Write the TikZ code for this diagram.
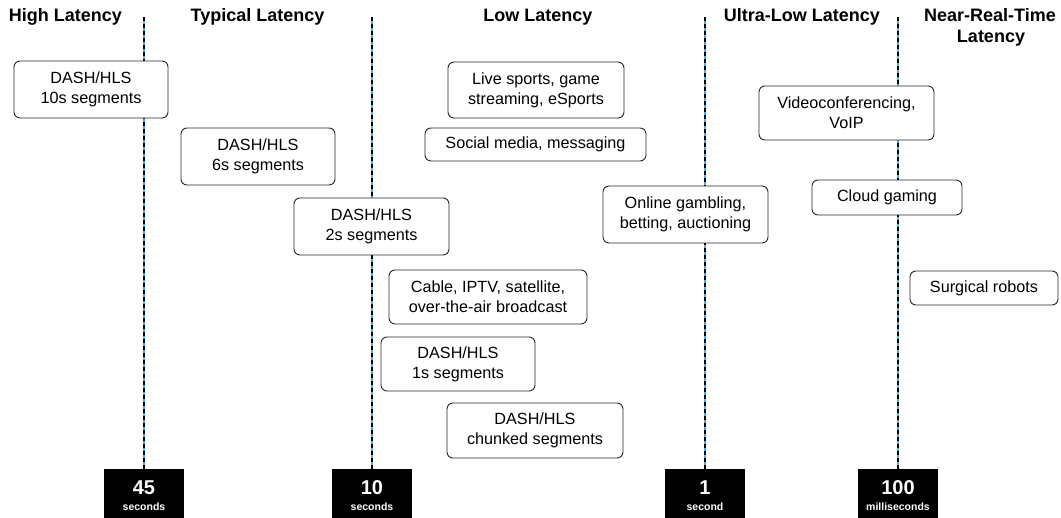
\documentclass[tikz,border=0pt]{standalone}
\usepackage{fontspec}
\setmainfont{Liberation Sans}
\definecolor{lineblue}{RGB}{84,170,222}
\definecolor{boxline}{RGB}{40,40,40}
\tikzset{
  item/.style={draw=boxline, line width=0.9pt, rounded corners=6pt, fill=white,
    align=center, font=\fontsize{16.2}{20}\selectfont, inner sep=0pt},
  head/.style={font=\fontsize{18}{21}\selectfont\bfseries, anchor=base, inner sep=0pt},
  tickbox/.style={fill=black, minimum width=80pt, minimum height=49pt, inner sep=0pt},
  bignum/.style={text=white, font=\fontsize{20}{22}\selectfont\bfseries, anchor=base, inner sep=0pt},
  unit/.style={text=white, font=\fontsize{10.5}{12}\selectfont\bfseries, anchor=base, inner sep=0pt},
  guide/.style={lineblue, line width=1.3pt},
  guidedash/.style={black, line width=1.3pt, dash pattern=on 4pt off 3pt}
}
\begin{document}
\begin{tikzpicture}[x=1pt,y=-1pt]
\useasboundingbox (0,0) rectangle (1061,518);
% guide tops
\coordinate (g1) at (144,17);
\coordinate (g2) at (372,17);
\coordinate (g3) at (705,17);
\coordinate (g4) at (898,17);
% tick boxes
\node[tickbox] (t1) at (144,493.5) {};
\node[tickbox] (t2) at (372,493.5) {};
\node[tickbox] (t3) at (705,493.5) {};
\node[tickbox] (t4) at (898,493.5) {};
% guides
\foreach \a/\b in {g1/t1,g2/t2,g3/t3,g4/t4}{
  \draw[guide] (\a) -- (\b.north);
  \draw[guidedash] (\a) -- (\b.north);
}
% tick labels
\node[bignum] (n1) at ([yshift=-26pt]t1.north) {45};
\node[unit] (u1) at ([yshift=-42pt]t1.north) {seconds};
\node[bignum] (n2) at ([yshift=-26pt]t2.north) {10};
\node[unit] (u2) at ([yshift=-42pt]t2.north) {seconds};
\node[bignum] (n3) at ([yshift=-26pt]t3.north) {1};
\node[unit] (u3) at ([yshift=-42pt]t3.north) {second};
\node[bignum] (n4) at ([yshift=-26pt]t4.north) {100};
\node[unit] (u4) at ([yshift=-42pt]t4.north) {milliseconds};
% headings
\node[head] (h1) at (65.5,22) {High Latency};
\node[head] (h2) at (257.5,22) {Typical Latency};
\node[head] (h3) at (538,22) {Low Latency};
\node[head] (h4) at (802,22) {Ultra-Low Latency};
\node[head] (h5) at (990,22) {Near-Real-Time};
\node[head] (h6) at (991,43) {Latency};
% items
\node[item, minimum width=154pt, minimum height=57pt] (b1) at (91,89.5) {DASH/HLS\\10s segments};
\node[item, minimum width=154pt, minimum height=57pt] (b2) at (258,156.5) {DASH/HLS\\6s segments};
\node[item, minimum width=155pt, minimum height=57pt] (b3) at (371.5,226.5) {DASH/HLS\\2s segments};
\node[item, minimum width=176pt, minimum height=56pt] (b4) at (536,90) {Live sports, game\\streaming, eSports};
\node[item, minimum width=221pt, minimum height=33pt] (b5) at (535.5,144.5) {Social media, messaging};
\node[item, minimum width=165pt, minimum height=57pt] (b6) at (685.5,214.5) {Online gambling,\\betting, auctioning};
\node[item, minimum width=175pt, minimum height=54pt] (b7) at (846.5,113) {Videoconferencing,\\VoIP};
\node[item, minimum width=150pt, minimum height=35pt] (b8) at (887,197.5) {Cloud gaming};
\node[item, minimum width=148pt, minimum height=34pt] (b9) at (984,288) {Surgical robots};
\node[item, minimum width=198pt, minimum height=54pt] (b10) at (488,297) {Cable, IPTV, satellite,\\over-the-air broadcast};
\node[item, minimum width=154pt, minimum height=54pt] (b11) at (458,364) {DASH/HLS\\1s segments};
\node[item, minimum width=176pt, minimum height=55pt] (b12) at (535,430.5) {DASH/HLS\\chunked segments};
\end{tikzpicture}
\end{document}
